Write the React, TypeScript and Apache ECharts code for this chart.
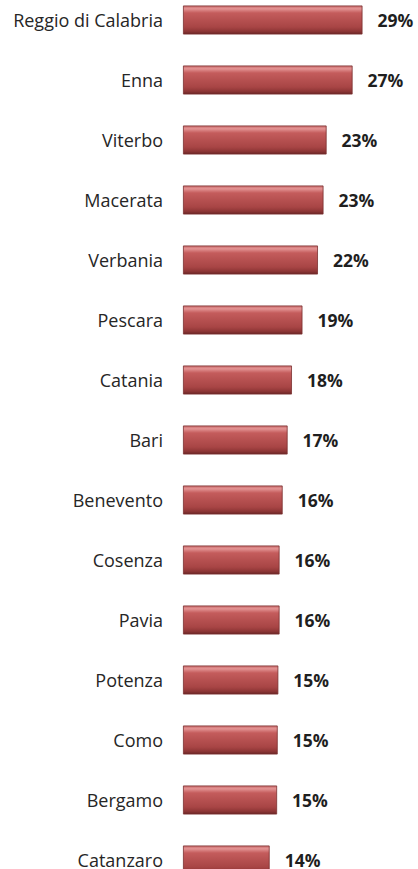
import React, { useEffect, useRef } from "react";
import * as echarts from "echarts";

const categories = [
  "Reggio di Calabria",
  "Enna",
  "Viterbo",
  "Macerata",
  "Verbania",
  "Pescara",
  "Catania",
  "Bari",
  "Benevento",
  "Cosenza",
  "Pavia",
  "Potenza",
  "Como",
  "Bergamo",
  "Catanzaro",
];

const values = [29.0, 27.4, 23.2, 22.7, 21.8, 19.3, 17.6, 16.9, 16.1, 15.6, 15.6, 15.4, 15.3, 15.2, 14.0];

export default function App() {
  const ref = useRef<HTMLDivElement>(null);

  useEffect(() => {
    if (!ref.current) return;
    const chart = echarts.init(ref.current, null, { renderer: "svg" });
    const barColor = new echarts.graphic.LinearGradient(0, 0, 0, 1, [
      { offset: 0, color: "#c86868" },
      { offset: 0.1, color: "#e39494" },
      { offset: 0.25, color: "#c45c5c" },
      { offset: 0.75, color: "#a84545" },
      { offset: 0.9, color: "#8e3636" },
      { offset: 1, color: "#6a2626" },
    ]);
    chart.setOption({
      animation: false,
      grid: { left: 183, right: 6, top: 0, bottom: 0, containLabel: false },
      xAxis: {
        type: "value",
        min: 0,
        max: 37,
        show: false,
      },
      yAxis: {
        type: "category",
        data: categories,
        inverse: true,
        axisLine: { show: false },
        axisTick: { show: false },
        splitLine: { show: false },
        axisLabel: {
          margin: 20,
          fontFamily: "'Open Sans', sans-serif",
          fontSize: 18,
          lineHeight: 15,
          color: "#262626",
        },
      },
      series: [
        {
          type: "bar",
          data: values,
          barWidth: 29,
          itemStyle: {
            color: barColor,
            borderColor: "#7a2f2f",
            borderWidth: 0.8,
          },
          label: {
            show: true,
            position: "right",
            distance: 15,
            fontFamily: "'Open Sans', sans-serif",
            fontWeight: "bold",
            fontSize: 17.5,
            lineHeight: 15,
            color: "#1f1f1f",
            formatter: (p: any) => Math.round(p.value) + "%",
          },
        },
      ],
    });
    return () => chart.dispose();
  }, []);

  return (
    <div
      style={{
        position: "fixed",
        left: 0,
        top: 0,
        width: 418,
        height: 869,
        overflow: "hidden",
        background: "#fff",
      }}
    >
      <div
        ref={ref}
        style={{ position: "absolute", left: 0, top: -10, width: 418, height: 900 }}
      />
    </div>
  );
}
